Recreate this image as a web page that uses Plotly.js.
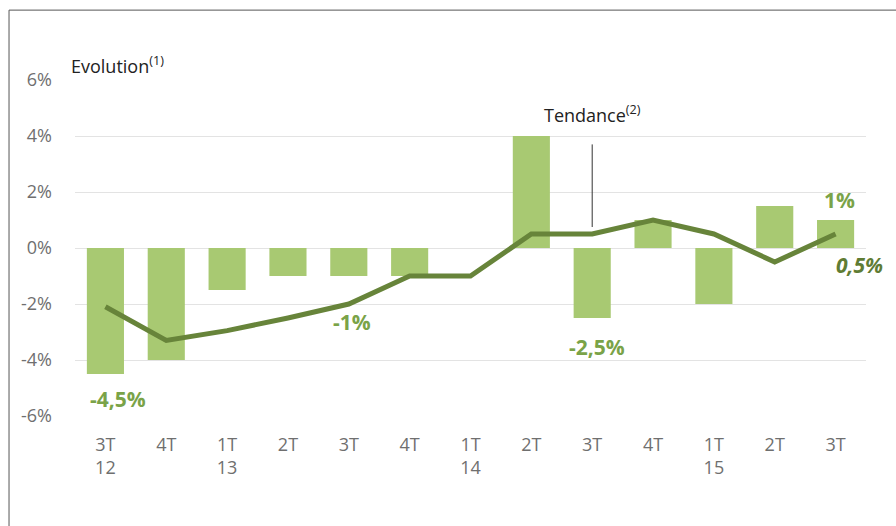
<!DOCTYPE html>
<html>
<head>
<meta charset="utf-8">
<script src="https://cdn.plot.ly/plotly-3.0.1.min.js"></script>
<style>html,body{margin:0;padding:0;background:#fff;}#chart{width:896px;height:526px;}</style>
</head>
<body>
<div id="chart"></div>
<script>
const categories = ["3T 12","4T 12","1T 13","2T 13","3T 13","4T 13","1T 14","2T 14","3T 14","4T 14","1T 15","2T 15","3T 15"];
const tickLabels = ["3T<br>12","4T","1T<br>13","2T","3T","4T","1T<br>14","2T","3T","4T","1T<br>15","2T","3T"];
const evolution = [-4.5, -4, -1.5, -1, -1, -1, 0, 4, -2.5, 1, -2, 1.5, 1];
const tendance = [-2.1, -3.3, -2.95, -2.5, -2, -1, -1, 0.5, 0.5, 1, 0.5, -0.5, 0.5];
const yTicks = [-6, -4, -2, 0, 2, 4, 6];
const yTickText = ["-6%", "-4%", "-2%", "0%", "2%", "4%", "6%"];

const FONT = "Open Sans, Noto Sans, sans-serif";
const traces = [
  {type:"bar", x:categories, y:evolution, marker:{color:"#a8c972"}, width:0.61, hoverinfo:"y", name:"Evolution"},
  {type:"scatter", mode:"lines", x:categories, y:tendance, line:{color:"#67843a", width:5}, name:"Tendance"}
];
const layout = {
  width:896, height:526,
  margin:{l:75, r:30, t:80, b:110},
  paper_bgcolor:"#ffffff", plot_bgcolor:"#ffffff",
  showlegend:false,
  font:{family:FONT, color:"#6f6f6f"},
  xaxis:{type:"category", tickvals:categories, ticktext:tickLabels, tickfont:{size:18, color:"#6f6f6f"},
         showgrid:false, zeroline:false, showline:false, ticks:"", range:[-0.5,12.5], ticklabelstandoff:16},
  yaxis:{range:[-6,6], tickvals:yTicks, ticktext:yTickText, tickfont:{size:18, color:"#6f6f6f"},
         gridcolor:"#e3e3e3", gridwidth:1, zeroline:false, showline:false, ticks:"", ticklabelstandoff:22},
  shapes:[
    {type:"line", xref:"paper", yref:"paper", x0:-0.0834, x1:1.05, y0:1.208, y1:1.208, line:{color:"#555", width:1}},
    {type:"line", xref:"paper", yref:"paper", x0:-0.0834, x1:-0.0834, y0:1.208, y1:-0.4, line:{color:"#555", width:1}},
    {type:"line", xref:"x", yref:"y", x0:categories[8], x1:categories[8], y0:3.7, y1:0.75, line:{color:"#333", width:1}}
  ],
  annotations:[
    {xref:"paper", yref:"paper", x:-0.008, y:1.0, xanchor:"left", yanchor:"bottom", showarrow:false,
     text:"Evolution<sup>(1)</sup>", font:{family:FONT, size:18, color:"#222"}},
    {xref:"x", yref:"y", x:categories[8], y:4.8, xanchor:"center", yanchor:"middle", xshift:0, showarrow:false,
     text:"Tendance<sup>(2)</sup>", font:{family:FONT, size:18, color:"#222"}},
    {xref:"x", yref:"y", x:categories[0], y:-5.4, xshift:13, showarrow:false, text:"-4,5%", font:{family:FONT, size:21, color:"#7aa348", weight:"bold"}},
    {xref:"x", yref:"y", x:categories[4], y:-2.65, xshift:3, showarrow:false, text:"-1%", font:{family:FONT, size:21, color:"#7aa348", weight:"bold"}},
    {xref:"x", yref:"y", x:categories[8], y:-3.55, xshift:5, showarrow:false, text:"-2,5%", font:{family:FONT, size:21, color:"#7aa348", weight:"bold"}},
    {xref:"x", yref:"y", x:categories[12], y:1.7, xshift:4, showarrow:false, text:"1%", font:{family:FONT, size:21, color:"#7aa348", weight:"bold"}},
    {xref:"x", yref:"y", x:categories[12], y:-0.6, xshift:24, showarrow:false, text:"0,5%", font:{family:FONT, size:21, color:"#5f7c34", weight:"bold", style:"italic"}}
  ]
};
Plotly.newPlot("chart", traces, layout, {displayModeBar:false, staticPlot:true});
</script>
</body>
</html>
